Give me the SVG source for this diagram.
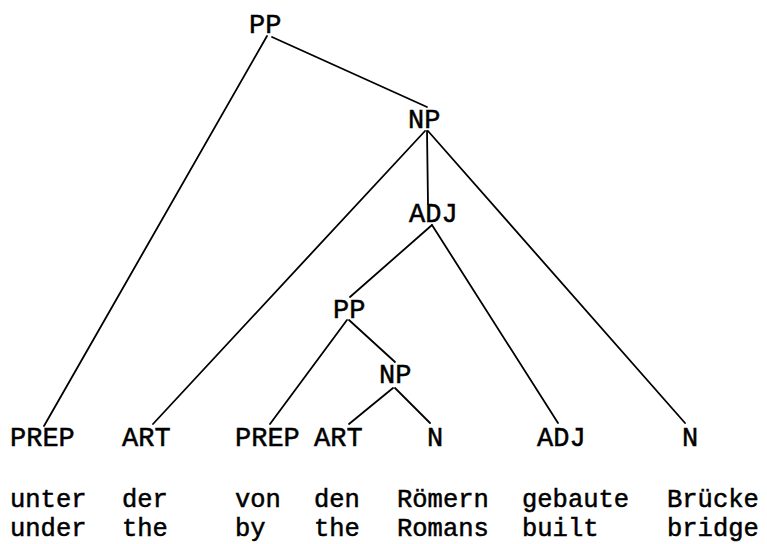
<svg xmlns="http://www.w3.org/2000/svg" width="767" height="544" viewBox="0 0 767 544">
<style>
text{font-family:"Liberation Mono","Courier New",monospace;font-size:27px;fill:#000;stroke:#000;stroke-width:0.5}
#words text{font-size:25.5px}
.e{stroke:#000;stroke-width:1.8;fill:none;stroke-linecap:round}
</style>
<rect width="767" height="544" fill="#fff"/>
<g id="connectors">
<line class="e" x1="267" y1="36" x2="44" y2="426"/>
<line class="e" x1="272" y1="37" x2="427" y2="107"/>
<line class="e" x1="427" y1="131" x2="428" y2="204"/>
<line class="e" x1="425" y1="131" x2="153" y2="424"/>
<line class="e" x1="428" y1="131" x2="685" y2="423"/>
<line class="e" x1="432" y1="225" x2="350" y2="297"/>
<line class="e" x1="432" y1="225" x2="558" y2="423"/>
<line class="e" x1="347" y1="320" x2="270" y2="424"/>
<line class="e" x1="349" y1="320" x2="395" y2="362"/>
<line class="e" x1="393" y1="388" x2="349" y2="424"/>
<line class="e" x1="395" y1="388" x2="430" y2="423"/>
</g>
<g id="pp1"><text x="249" y="33">PP</text></g>
<g id="np1"><text x="408" y="128">NP</text></g>
<g id="adj1"><text x="409" y="222">ADJ</text></g>
<g id="pp2"><text x="333" y="318">PP</text></g>
<g id="np2"><text x="379" y="383">NP</text></g>
<g id="prep1"><text x="10" y="446">PREP</text></g>
<g id="art1"><text x="122" y="446">ART</text></g>
<g id="prep2"><text x="235" y="446">PREP</text></g>
<g id="art2"><text x="314" y="446">ART</text></g>
<g id="n1"><text x="427" y="446">N</text></g>
<g id="adj2"><text x="537" y="446">ADJ</text></g>
<g id="n2"><text x="682" y="446">N</text></g>
<g id="words">
<text x="10" y="507">unter</text>
<text x="122" y="507">der</text>
<text x="235" y="507">von</text>
<text x="314" y="507">den</text>
<text x="397" y="507">Römern</text>
<text x="522" y="507">gebaute</text>
<text x="667" y="507">Brücke</text>
<text x="10" y="536">under</text>
<text x="122" y="536">the</text>
<text x="235" y="536">by</text>
<text x="314" y="536">the</text>
<text x="397" y="536">Romans</text>
<text x="522" y="536">built</text>
<text x="667" y="536">bridge</text>
</g>
</svg>
